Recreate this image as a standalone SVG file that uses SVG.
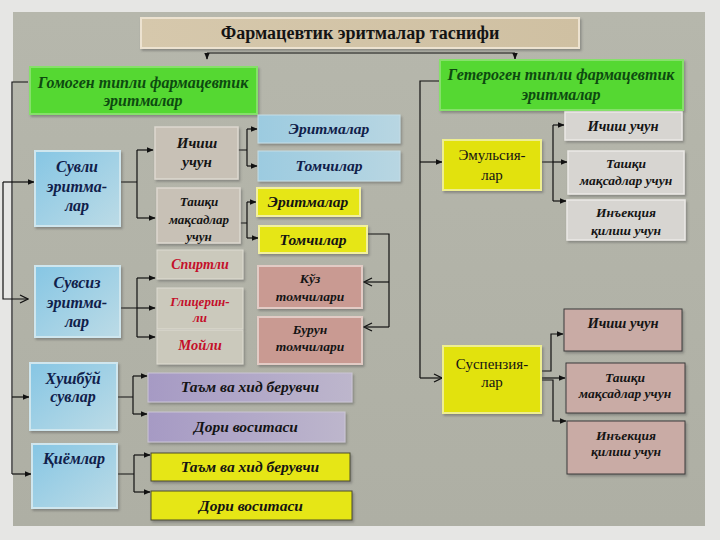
<svg xmlns="http://www.w3.org/2000/svg" width="720" height="540" viewBox="0 0 720 540">
<defs>
<linearGradient id="panel" x1="0" y1="0" x2="0" y2="1"><stop offset="0" stop-color="#b6b7ac"/><stop offset="1" stop-color="#aeafa4"/></linearGradient>
<linearGradient id="blue" x1="0" y1="0" x2="1" y2="1"><stop offset="0" stop-color="#86c6e4"/><stop offset="1" stop-color="#bcdbe6"/></linearGradient>
<linearGradient id="blue2" x1="0" y1="0" x2="1" y2="0"><stop offset="0" stop-color="#9ccbe0"/><stop offset="1" stop-color="#b8d6e2"/></linearGradient>
<linearGradient id="purple" x1="0" y1="0" x2="1" y2="0"><stop offset="0" stop-color="#a69ac4"/><stop offset="1" stop-color="#bdb6cc"/></linearGradient>
<linearGradient id="title" x1="0" y1="0" x2="1" y2="0"><stop offset="0" stop-color="#d6c8ac"/><stop offset="1" stop-color="#cfc0a2"/></linearGradient>
<filter id="sh" x="-10%" y="-10%" width="130%" height="140%"><feDropShadow dx="1.5" dy="2" stdDeviation="1.2" flood-color="#555" flood-opacity="0.45"/></filter>
<marker id="ar" viewBox="0 0 10 10" refX="9" refY="5" markerWidth="7" markerHeight="7" orient="auto" markerUnits="userSpaceOnUse"><path d="M0,1 L10,5 L0,9 Z" fill="#111"/></marker>
<marker id="op" viewBox="0 0 10 10" refX="9" refY="5" markerWidth="10" markerHeight="10" orient="auto" markerUnits="userSpaceOnUse"><path d="M1,1 L9,5 L1,9" fill="none" stroke="#111" stroke-width="1.3"/></marker>
</defs>
<style>
.t{font-family:"Liberation Serif","Times New Roman",serif;font-weight:bold;font-style:italic;text-anchor:middle}
.c{fill:none;stroke:#111;stroke-width:1.2}
.a{marker-end:url(#ar)}
.o{marker-end:url(#op)}
.n{fill:#10204a}
.k{fill:#141414}
.r{fill:#c40f2a}
.g{fill:#0d4a10}
</style>
<rect x="0" y="0" width="720" height="540" fill="#e6e6e4"/>
<rect x="13" y="12" width="692" height="514" fill="url(#panel)"/>

<g id="connectors">
<path class="c" d="M207,53 H515"/>
<path class="c a" d="M207,53 V59"/>
<path class="c a" d="M515,53 V59"/>
<path class="c" d="M28,82 H12 V474"/>
<path class="c a" d="M3,182 H34"/>
<path class="c o" d="M3,182 V299 H28"/>
<path class="c a" d="M12,397 H29"/>
<path class="c a" d="M12,474 H31"/>
<path class="c" d="M120,182 H137 M137,150 V218"/>
<path class="c a" d="M137,150 H153"/>
<path class="c a" d="M137,218 H155"/>
<path class="c" d="M238,150 H247 M247,129 V166"/>
<path class="c a" d="M247,129 H257"/>
<path class="c a" d="M247,166 H257"/>
<path class="c" d="M240,223 H247 M247,202 V238"/>
<path class="c a" d="M247,202 H256"/>
<path class="c a" d="M247,238 H258"/>
<path class="c" d="M368,234 H389 V327"/>
<path class="c o" d="M389,282 H364"/>
<path class="c o" d="M389,327 H364"/>
<path class="c" d="M120,308 H137 M137,278 V337"/>
<path class="c a" d="M137,278 H155"/>
<path class="c a" d="M137,308 H155"/>
<path class="c a" d="M137,337 H155"/>
<path class="c" d="M117,397 H133 M133,376 V414"/>
<path class="c a" d="M133,376 H147"/>
<path class="c a" d="M133,414 H147"/>
<path class="c" d="M117,474 H134 M134,455 V492"/>
<path class="c a" d="M134,455 H150"/>
<path class="c a" d="M134,492 H150"/>
<path class="c" d="M440,81 H420 V378"/>
<path class="c a" d="M420,162 H442"/>
<path class="c o" d="M420,378 H442"/>
<path class="c" d="M541,162 H553 M553,125 V201"/>
<path class="c a" d="M553,125 H564"/>
<path class="c a" d="M553,162 H567"/>
<path class="c a" d="M553,201 H566"/>
<path class="c a" d="M541,371 H551 V334 H563"/>
<path class="c a" d="M541,378 H565"/>
<path class="c a" d="M541,380 H553 V421 H566"/>
</g>

<g id="title"><rect x="141" y="18" width="438" height="30" fill="url(#title)" stroke="#ece2d0" stroke-width="2" filter="url(#sh)"/><text x="360" y="39" class="k" style="font-family:'Liberation Serif',serif;font-weight:bold;font-size:18px;text-anchor:middle">Фармацевтик эритмалар таснифи</text></g>

<g id="homogen"><rect x="30" y="67" width="227" height="47" fill="#55d832" stroke="#86e06a" stroke-width="2" filter="url(#sh)"/><text class="t g" x="143" y="88" font-size="16">Гомоген типли фармацевтик</text><text class="t g" x="143" y="106" font-size="16">эритмалар</text></g>
<g id="heterogen"><rect x="440" y="60" width="243" height="50" fill="#55d832" stroke="#86e06a" stroke-width="2" filter="url(#sh)"/><text class="t g" x="561" y="80" font-size="16">Гетероген типли фармацевтик</text><text class="t g" x="561" y="100" font-size="16">эритмалар</text></g>

<g id="suvli"><rect x="35" y="151" width="85" height="75" fill="url(#blue)" stroke="#cfe6ee" stroke-width="2" filter="url(#sh)"/><text class="t n" x="77" y="172" font-size="16">Сувли</text><text class="t n" x="77" y="192" font-size="16">эритма-</text><text class="t n" x="77" y="211" font-size="16">лар</text></g>
<g id="ichish1"><rect x="155" y="127" width="83" height="52" fill="#c8c1b6" stroke="#ddd8cf" stroke-width="1.5" filter="url(#sh)"/><text class="t k" x="197" y="148" font-size="15">Ичиш</text><text class="t k" x="197" y="167" font-size="15">учун</text></g>
<g id="tashqi1"><rect x="157" y="188" width="83" height="55" fill="#c8c1b6" stroke="#ddd8cf" stroke-width="1.5" filter="url(#sh)"/><text class="t k" x="199" y="206" font-size="13">Ташқи</text><text class="t k" x="199" y="224" font-size="13">мақсадлар</text><text class="t k" x="199" y="241" font-size="13">учун</text></g>
<g id="eritma-blue"><rect x="258" y="115" width="142" height="28" fill="url(#blue2)" stroke="#c6dde6" stroke-width="1" filter="url(#sh)"/><text class="t n" x="329" y="134" font-size="15.5">Эритмалар</text></g>
<g id="tomchi-blue"><rect x="258" y="151" width="142" height="30" fill="url(#blue2)" stroke="#c6dde6" stroke-width="1" filter="url(#sh)"/><text class="t n" x="329" y="171" font-size="15.5">Томчилар</text></g>
<g id="eritma-yellow"><rect x="257" y="188" width="103" height="28" fill="#e6e614" stroke="#f2f0a0" stroke-width="2" filter="url(#sh)"/><text class="t k" x="308" y="207" font-size="15.5">Эритмалар</text></g>
<g id="tomchi-yellow"><rect x="259" y="226" width="108" height="27" fill="#e6e614" stroke="#f2f0a0" stroke-width="2" filter="url(#sh)"/><text class="t k" x="313" y="245" font-size="15.5">Томчилар</text></g>
<g id="kuz"><rect x="258" y="266" width="104" height="42" fill="#c99a92" stroke="#e2cbc5" stroke-width="2" filter="url(#sh)"/><text class="t k" x="310" y="283" font-size="13.5">Кўз</text><text class="t k" x="310" y="301" font-size="13.5">томчилари</text></g>
<g id="burun"><rect x="258" y="317" width="104" height="47" fill="#c99a92" stroke="#e2cbc5" stroke-width="2" filter="url(#sh)"/><text class="t k" x="310" y="334" font-size="13.5">Бурун</text><text class="t k" x="310" y="351" font-size="13.5">томчилари</text></g>
<g id="spirtli"><rect x="157" y="250" width="86" height="29" fill="#cbc9bc" stroke="#dedcd2" stroke-width="1" filter="url(#sh)"/><text class="t r" x="200" y="269" font-size="14">Спиртли</text></g>
<g id="glitserin"><rect x="157" y="288" width="86" height="41" fill="#cbc9bc" stroke="#dedcd2" stroke-width="1" filter="url(#sh)"/><text class="t r" x="200" y="306" font-size="13">Глицерин-</text><text class="t r" x="200" y="322" font-size="13">ли</text></g>
<g id="moyli"><rect x="157" y="330" width="86" height="34" fill="#cbc9bc" stroke="#dedcd2" stroke-width="1" filter="url(#sh)"/><text class="t r" x="200" y="350" font-size="14.5">Мойли</text></g>
<g id="suvsiz"><rect x="35" y="266" width="85" height="71" fill="url(#blue)" stroke="#cfe6ee" stroke-width="2" filter="url(#sh)"/><text class="t n" x="77" y="288" font-size="16">Сувсиз</text><text class="t n" x="77" y="308" font-size="16">эритма-</text><text class="t n" x="77" y="327" font-size="16">лар</text></g>
<g id="xushbuy"><rect x="30" y="363" width="87" height="67" fill="url(#blue)" stroke="#cfe6ee" stroke-width="2" filter="url(#sh)"/><text class="t n" x="73" y="384" font-size="16">Хушбўй</text><text class="t n" x="73" y="402" font-size="16">сувлар</text></g>
<g id="qiyomlar"><rect x="32" y="444" width="85" height="64" fill="url(#blue)" stroke="#cfe6ee" stroke-width="2" filter="url(#sh)"/><text class="t n" x="74" y="464" font-size="16">Қиёмлар</text></g>
<g id="taam-purple"><rect x="148" y="373" width="204" height="29" fill="url(#purple)" stroke="#cbc6d6" stroke-width="1" filter="url(#sh)"/><text class="t k" x="250" y="392" font-size="15.5">Таъм ва хид берувчи</text></g>
<g id="dori-purple"><rect x="148" y="412" width="197" height="30" fill="url(#purple)" stroke="#cbc6d6" stroke-width="1" filter="url(#sh)"/><text class="t k" x="246" y="432" font-size="15.5">Дори воситаси</text></g>
<g id="taam-yellow"><rect x="151" y="453" width="199" height="28" fill="#e6e612" stroke="#4a4a30" stroke-width="1" filter="url(#sh)"/><text class="t k" x="250" y="472" font-size="15.5">Таъм ва хид берувчи</text></g>
<g id="dori-yellow"><rect x="151" y="491" width="201" height="29" fill="#e6e612" stroke="#4a4a30" stroke-width="1" filter="url(#sh)"/><text class="t k" x="251" y="511" font-size="15.5">Дори воситаси</text></g>

<g id="emulsiya"><rect x="443" y="140" width="98" height="50" fill="#e2e20e" stroke="#eeee90" stroke-width="2" filter="url(#sh)"/><text x="492" y="160" font-family="Liberation Serif, serif" font-size="15" text-anchor="middle" fill="#141414">Эмульсия-</text><text x="492" y="180" font-family="Liberation Serif, serif" font-size="15" text-anchor="middle" fill="#141414">лар</text></g>
<g id="e-ichish"><rect x="565" y="112" width="117" height="28" fill="#d7d5d1" stroke="#ebe9e6" stroke-width="1.5" filter="url(#sh)"/><text class="t k" x="623" y="131" font-size="14.5">Ичиш учун</text></g>
<g id="e-tashqi"><rect x="568" y="151" width="116" height="43" fill="#d7d5d1" stroke="#ebe9e6" stroke-width="1.5" filter="url(#sh)"/><text class="t k" x="626" y="168" font-size="13.5">Ташқи</text><text class="t k" x="626" y="185" font-size="13.5">мақсадлар учун</text></g>
<g id="e-inyeksiya"><rect x="567" y="200" width="118" height="40" fill="#d7d5d1" stroke="#ebe9e6" stroke-width="1.5" filter="url(#sh)"/><text class="t k" x="626" y="217" font-size="13.5">Инъекция</text><text class="t k" x="626" y="235" font-size="13.5">қилиш учун</text></g>

<g id="suspenziya"><rect x="443" y="346" width="98" height="67" fill="#e2e20e" stroke="#eeee90" stroke-width="2" filter="url(#sh)"/><text x="492" y="369" font-family="Liberation Serif, serif" font-size="15" text-anchor="middle" fill="#141414">Суспензия-</text><text x="492" y="387" font-family="Liberation Serif, serif" font-size="15" text-anchor="middle" fill="#141414">лар</text></g>
<g id="s-ichish"><rect x="564" y="309" width="118" height="42" fill="#c9aba5" stroke="#3a3a3a" stroke-width="1" filter="url(#sh)"/><text class="t k" x="623" y="328" font-size="14.5">Ичиш учун</text></g>
<g id="s-tashqi"><rect x="566" y="363" width="119" height="50" fill="#c9aba5" stroke="#3a3a3a" stroke-width="1" filter="url(#sh)"/><text class="t k" x="625" y="382" font-size="13.5">Ташқи</text><text class="t k" x="625" y="398" font-size="13.5">мақсадлар учун</text></g>
<g id="s-inyeksiya"><rect x="567" y="421" width="118" height="53" fill="#c9aba5" stroke="#3a3a3a" stroke-width="1" filter="url(#sh)"/><text class="t k" x="626" y="440" font-size="13.5">Инъекция</text><text class="t k" x="626" y="456" font-size="13.5">қилиш учун</text></g>
</svg>
